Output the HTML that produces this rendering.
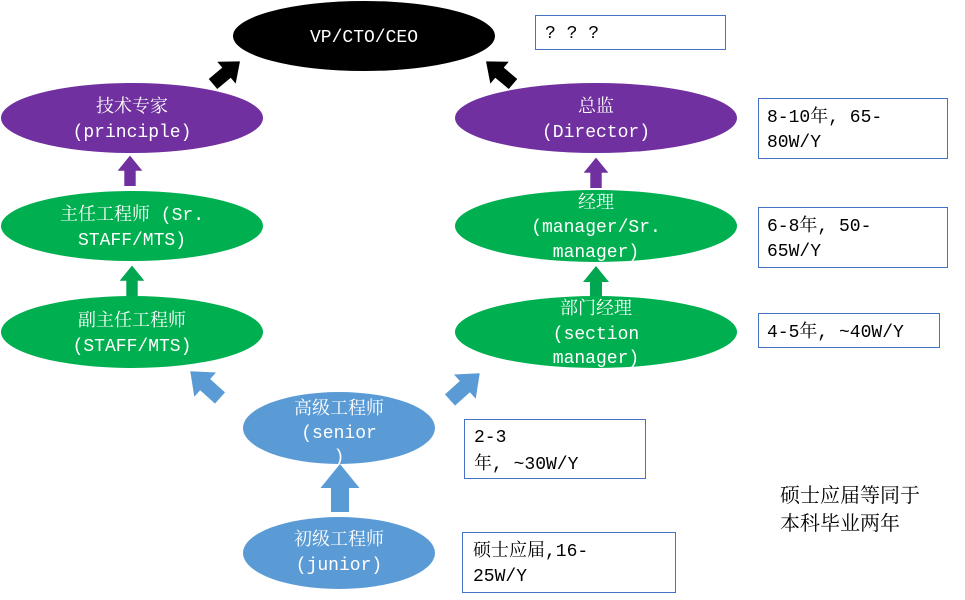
<!DOCTYPE html>
<html><head><meta charset="utf-8"><style>
body{margin:0;background:#fff;}
svg text{font-family:"Liberation Mono","Noto Serif CJK SC",monospace;font-size:18px;}
</style></head><body>
<svg width="965" height="595" viewBox="0 0 965 595" xmlns="http://www.w3.org/2000/svg">
<defs>
<g id="arr"><polygon points="-6,0 6,0 6,-16 13,-16 0,-32 -13,-16 -6,-16"/></g>
</defs>
<!-- arrows -->
<g fill="#000"><use href="#arr" transform="translate(213,84) rotate(50) scale(1.1)"/>
<use href="#arr" transform="translate(513,84) rotate(-50) scale(1.1)"/></g>
<g fill="#7030A0"><use href="#arr" transform="translate(130,186) scale(0.95)"/>
<use href="#arr" transform="translate(596,188) scale(0.95)"/></g>
<g fill="#00A650"><use href="#arr" transform="translate(132,296) scale(0.95)"/>
<use href="#arr" transform="translate(596,298) scale(1)"/></g>
<g fill="#5B9BD5"><use href="#arr" transform="translate(220,398) rotate(-48) scale(1.25)"/>
<use href="#arr" transform="translate(450,400) rotate(48) scale(1.25)"/>
<use href="#arr" transform="translate(340,512) scale(1.5)"/></g>
<!-- ellipses -->
<ellipse cx="364" cy="36" rx="131" ry="35" fill="#000"/>
<ellipse cx="132" cy="118" rx="131" ry="35" fill="#7030A0"/>
<ellipse cx="596" cy="118" rx="141" ry="35" fill="#7030A0"/>
<ellipse cx="132" cy="226" rx="131" ry="35" fill="#00B050"/>
<ellipse cx="596" cy="226" rx="141" ry="36" fill="#00B050"/>
<ellipse cx="132" cy="332" rx="131" ry="36" fill="#00B050"/>
<ellipse cx="596" cy="332" rx="141" ry="36" fill="#00B050"/>
<ellipse cx="339" cy="428" rx="96" ry="36" fill="#5B9BD5"/>
<ellipse cx="339" cy="553" rx="96" ry="36" fill="#5B9BD5"/>
<g fill="#fff" text-anchor="middle">
<text x="364" y="42">VP/CTO/CEO</text>
<text x="132" y="112">技术专家</text><text x="132" y="137">(principle)</text>
<text x="596" y="112">总监</text><text x="596" y="137">(Director)</text>
<text x="132" y="220">主任工程师 (Sr.</text><text x="132" y="245">STAFF/MTS)</text>
<text x="596" y="208">经理</text><text x="596" y="232">(manager/Sr.</text><text x="596" y="257">manager)</text>
<text x="132" y="326">副主任工程师</text><text x="132" y="351">(STAFF/MTS)</text>
<text x="596" y="314">部门经理</text><text x="596" y="339">(section</text><text x="596" y="363">manager)</text>
<text x="339" y="414">高级工程师</text><text x="339" y="438">(senior</text><text x="339" y="462">)</text>
<text x="339" y="545">初级工程师</text><text x="339" y="570">(junior)</text>
</g>
<!-- boxes -->
<g fill="#fff" stroke="#4472C4" stroke-width="1">
<rect x="535.5" y="15.5" width="190" height="34"/>
<rect x="758.5" y="98.5" width="189" height="60"/>
<rect x="758.5" y="207.5" width="189" height="60"/>
<rect x="758.5" y="313.5" width="181" height="34"/>
<rect x="464.5" y="419.5" width="181" height="59"/>
<rect x="462.5" y="532.5" width="213" height="60"/>
</g>
<g fill="#000">
<text x="545" y="38">? ? ?</text>
<text x="767" y="122">8-10年, 65-</text><text x="767" y="147">80W/Y</text>
<text x="767" y="231">6-8年, 50-</text><text x="767" y="256">65W/Y</text>
<text x="767" y="337">4-5年, ~40W/Y</text>
<text x="474" y="442">2-3</text><text x="474" y="469">年, ~30W/Y</text>
<text x="473" y="556">硕士应届,16-</text><text x="473" y="581">25W/Y</text>
<text x="780" y="502" style="font-size:20px">硕士应届等同于</text>
<text x="780" y="530" style="font-size:20px">本科毕业两年</text>
</g>
</svg>
</body></html>
